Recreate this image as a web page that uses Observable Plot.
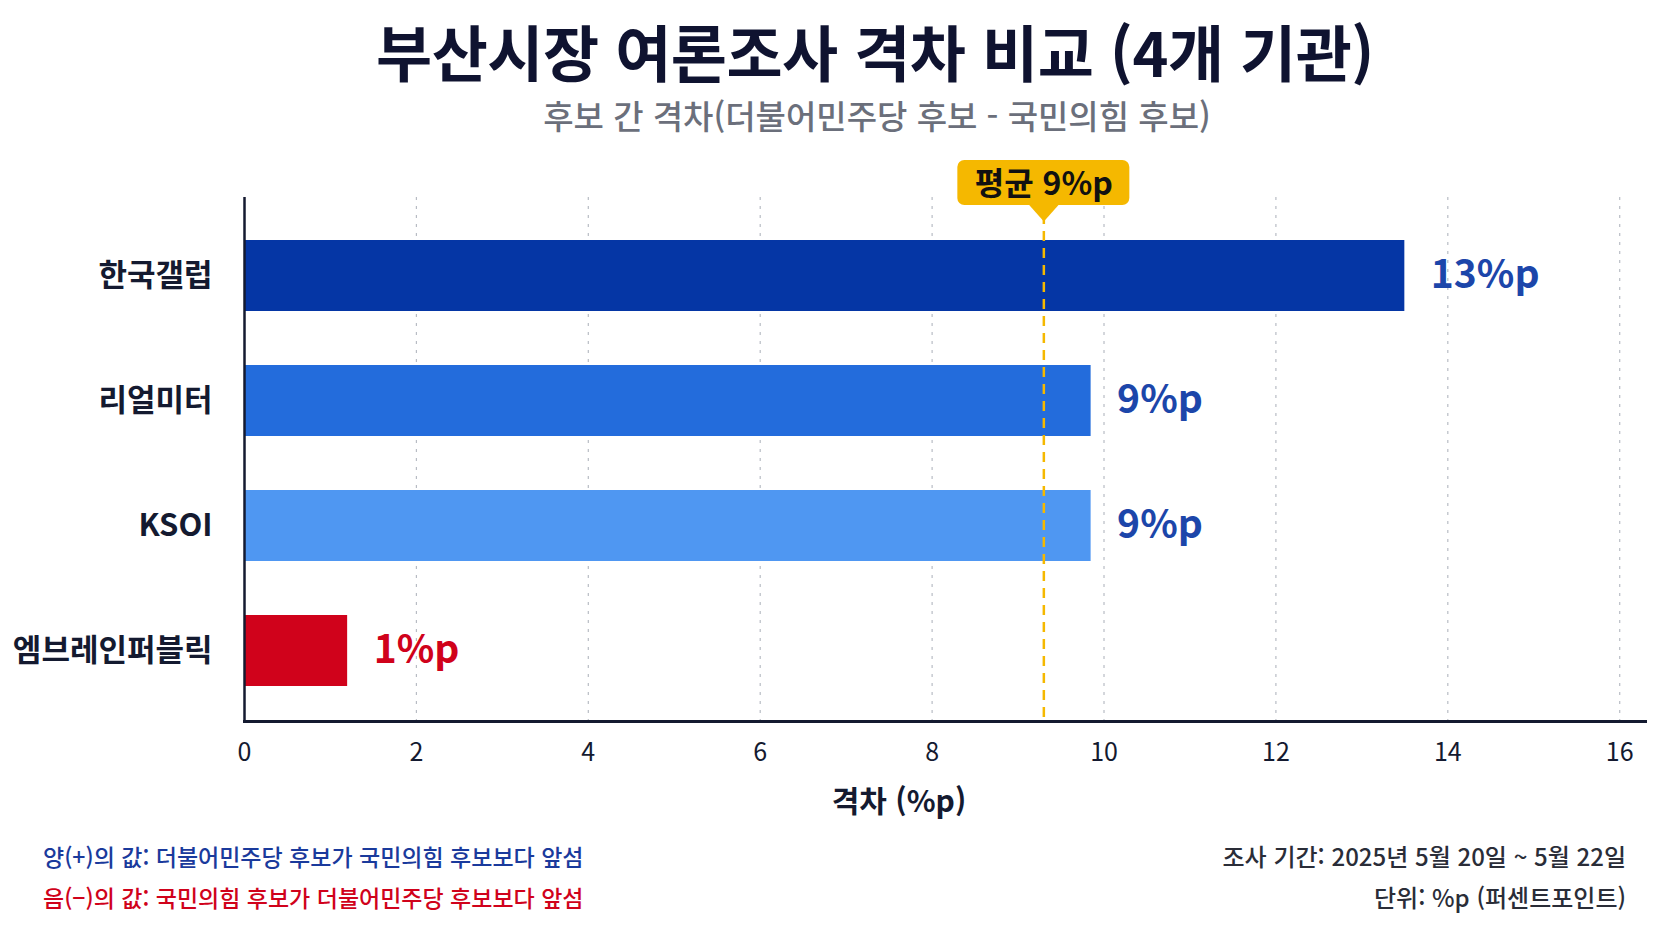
<!DOCTYPE html>
<html lang="ko">
<head>
<meta charset="utf-8">
<script src="https://cdn.jsdelivr.net/npm/d3@7"></script>
<script src="https://cdn.jsdelivr.net/npm/@observablehq/plot@0.6"></script>
<style>
  html, body { margin: 0; padding: 0; background: #ffffff; }
  body { width: 1672px; height: 941px; position: relative; overflow: hidden; font-family: "Noto Sans CJK KR", "Noto Sans", sans-serif; }
  .abs { position: absolute; white-space: nowrap; }
  #title { left: 875px; top: 15px; transform: translateX(-50%); font-size: 61px; line-height: 72px; font-weight: 700; color: #0f1330; letter-spacing: -0.5px; }
  #subtitle { left: 877px; top: 95px; transform: translateX(-50%); font-size: 33px; line-height: 40px; font-weight: 500; color: #6b6f7b; }
  #chart { left: 0; top: 140px; }
  .note { line-height: 30px; font-weight: 500; }
  #noteL1 { left: 43px; top: 841px; color: #1a3a9c; font-size: 23px; }
  #noteL2 { left: 43px; top: 882px; color: #d0021b; font-size: 23px; }
  #noteR1 { right: 46px; top: 841px; color: #2a2d38; font-size: 24px; }
  #noteR2 { right: 46px; top: 882px; color: #2a2d38; font-size: 24px; }
</style>
</head>
<body>
<div id="title" class="abs"></div>
<div id="subtitle" class="abs"></div>
<div id="chart" class="abs"></div>
<div id="noteL1" class="abs note"></div>
<div id="noteL2" class="abs note"></div>
<div id="noteR1" class="abs note"></div>
<div id="noteR2" class="abs note"></div>
<script>
const titleText = "부산시장 여론조사 격차 비교 (4개 기관)";
const subtitleText = "후보 간 격차(더불어민주당 후보 - 국민의힘 후보)";
const names = ["한국갤럽", "리얼미터", "KSOI", "엠브레인퍼블릭"];
const values = [13.5, 9.85, 9.85, 1.2];
const valueLabels = ["13%p", "9%p", "9%p", "1%p"];
const barColors = ["#0536a5", "#236cdc", "#4f97f2", "#d0021b"];
const labelColors = ["#1c46aa", "#1c46aa", "#1c46aa", "#d0021b"];
const avgValue = 9.3;
const avgLabel = "평균 9%p";
const xTicks = [0, 2, 4, 6, 8, 10, 12, 14, 16];
const xLabel = "격차 (%p)";
const notesLeft = ["양(+)의 값: 더불어민주당 후보가 국민의힘 후보보다 앞섬", "음(−)의 값: 국민의힘 후보가 더불어민주당 후보보다 앞섬"];
const notesRight = ["조사 기간: 2025년 5월 20일 ~ 5월 22일", "단위: %p (퍼센트포인트)"];

document.getElementById("title").textContent = titleText;
document.getElementById("subtitle").textContent = subtitleText;
document.getElementById("noteL1").textContent = notesLeft[0];
document.getElementById("noteL2").textContent = notesLeft[1];
document.getElementById("noteR1").textContent = notesRight[0];
document.getElementById("noteR2").textContent = notesRight[1];

const data = names.map((name, i) => ({name, value: values[i], label: valueLabels[i], labelColor: labelColors[i]}));
const avgData = [{value: avgValue, label: avgLabel}];
const ink = "#141a30";
const gold = "#f5b800";
const pointer = {
  draw(context) {
    context.moveTo(-16, -2);
    context.lineTo(16, -2);
    context.lineTo(0, 16);
    context.closePath();
  }
};

const chart = Plot.plot({
  width: 1672,
  height: 680,
  marginTop: 57,
  marginBottom: 99,
  marginLeft: 244,
  marginRight: 27,
  style: {fontFamily: "'Noto Sans CJK KR', 'Noto Sans', sans-serif", background: "transparent", color: ink, overflow: "visible"},
  x: {domain: [0, 16.3], ticks: xTicks, label: null},
  y: {domain: names, paddingInner: 0.43, paddingOuter: 0.31, align: 0.548, label: null},
  color: {domain: names, range: barColors},
  marks: [
    Plot.gridX(xTicks.slice(1), {stroke: "#b8bcc4", strokeOpacity: 1, strokeWidth: 1.2, strokeDasharray: "3,6"}),
    Plot.barX(data, {x: "value", y: "name", fill: "name"}),
    Plot.ruleX(avgData, {x: "value", stroke: gold, strokeWidth: 2.5, strokeDasharray: "10,7"}),
    Plot.ruleX([0], {stroke: ink, strokeWidth: 2.5}),
    Plot.frame({anchor: "bottom", stroke: ink, strokeWidth: 3}),
    Plot.axisX({ticks: xTicks, tickSize: 0, tickPadding: 22, fontSize: 25, fill: ink, label: null}),
    Plot.axisY({tickSize: 0, tickPadding: 32, fontSize: 31, fontWeight: 700, fill: ink, label: null}),
    ...data.map(d => Plot.text([d], {x: "value", y: "name", text: "label", dx: 26, textAnchor: "start", fill: d.labelColor, fontSize: 39, fontWeight: 700})),
    Plot.text([xLabel], {frameAnchor: "bottom", dx: -46, dy: 90, fontSize: 30, fontWeight: 700, fill: ink}),
    Plot.dot(avgData, {x: "value", frameAnchor: "top", dy: 8, symbol: pointer, r: 10, fill: gold, stroke: "none"}),
    Plot.rect(avgData, {x1: "value", x2: "value", insetLeft: -86, insetRight: -86, insetTop: -37, insetBottom: 516, fill: gold, rx: 7}),
    Plot.text(avgData, {x: "value", text: "label", frameAnchor: "top", dy: -25, fontSize: 32, fontWeight: 700, fill: "#111111"})
  ]
});
document.getElementById("chart").appendChild(chart);
</script>
</body>
</html>
